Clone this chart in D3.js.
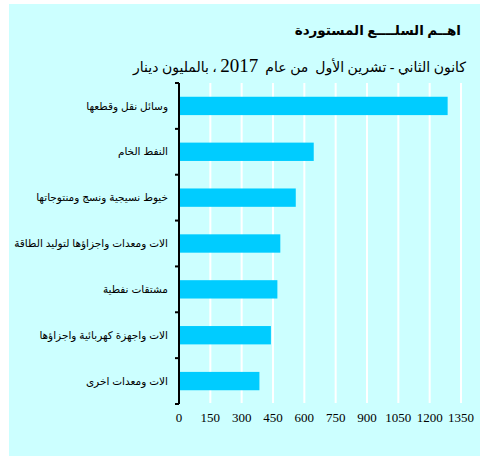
<!DOCTYPE html>
<html><head><meta charset="utf-8">
<script src="https://cdn.jsdelivr.net/npm/d3@7"></script>
<style>html,body{margin:0;padding:0;background:#fff;}svg{display:block;}</style>
</head><body>
<svg id="c" width="480" height="456"></svg>
<script>
const categories = ["وسائل نقل وقطعها","النفط الخام","خيوط نسيجية ونسج ومنتوجاتها","الات ومعدات واجزاؤها لتوليد الطاقة","مشتقات نفطية","الات واجهزة كهربائية واجزاؤها","الات ومعدات اخرى"];
const values = [1286, 645, 559, 485, 471, 440, 385];
const tickValues = [0,150,300,450,600,750,900,1050,1200,1350];
const titleText = "اهــم السلــــع المستوردة";
const subtitleA = "كانون الثاني - تشرين الأول  من عام  ";
const subtitleYear = "2017";
const subtitleB = " ، بالمليون دينار";

const svg = d3.select("#c");
svg.append("rect").attr("x",9).attr("y",4).attr("width",471).attr("height",452).attr("fill","#ccffff");

const x = d3.scaleLinear().domain([0,1350]).range([179,461]);
const y = d3.scaleBand().domain(categories).range([83,404]).paddingInner(0.6).paddingOuter(0.3);

// gridlines
svg.append("g").selectAll("line").data(tickValues.slice(1)).join("line")
  .attr("x1",d=>x(d)).attr("x2",d=>x(d)).attr("y1",83).attr("y2",403)
  .attr("stroke","#fff").attr("stroke-width",2);

// bars
svg.append("g").selectAll("rect").data(categories).join("rect")
  .attr("x",x(0)).attr("y",d=>y(d)).attr("height",y.bandwidth())
  .attr("width",(d,i)=>x(values[i])-x(0)).attr("fill","#00ccff");

// y axis line and ticks
const gap = (y.step()-y.bandwidth())/2;
const bounds = categories.map(c=>y(c)-gap).concat([y(categories[categories.length-1])+y.bandwidth()+gap]);
svg.append("line").attr("x1",x(0)).attr("x2",x(0)).attr("y1",83).attr("y2",404)
  .attr("stroke","#000").attr("stroke-width",2);
svg.append("g").selectAll("line").data(bounds).join("line")
  .attr("x1",x(0)-4).attr("x2",x(0)).attr("y1",d=>d).attr("y2",d=>d)
  .attr("stroke","#000").attr("stroke-width",2);

// category labels
svg.append("g").selectAll("text").data(categories).join("text")
  .attr("x",168).attr("y",d=>y(d)+y.bandwidth()/2).attr("dy","0.35em")
  .attr("text-anchor","end").attr("font-family","Arial, 'Liberation Sans', 'DejaVu Sans', sans-serif")
  .attr("font-size",10.5).attr("fill","#000").text(d=>d);

// x tick labels
svg.append("g").selectAll("text").data(tickValues).join("text")
  .attr("x",d=>x(d)).attr("y",422).attr("text-anchor","middle")
  .attr("font-family","'Times New Roman','Liberation Serif',serif").attr("font-size",13)
  .attr("fill","#000").text(d=>d);

// titles
svg.append("text").attr("x",461).attr("y",35).attr("text-anchor","end")
  .attr("font-family","'Times New Roman','Liberation Serif','DejaVu Sans',serif").attr("font-weight","bold")
  .attr("font-size",13.5).attr("fill","#000").text(titleText);
const st = svg.append("text").attr("x",466).attr("y",72).attr("text-anchor","end")
  .attr("font-family","'Times New Roman','Liberation Serif','DejaVu Sans',serif")
  .attr("font-size",14).attr("fill","#000").style("white-space","pre");
st.append("tspan").text(subtitleA);
st.append("tspan").attr("font-size",19).text(subtitleYear);
st.append("tspan").text(subtitleB);
</script>
</body></html>
